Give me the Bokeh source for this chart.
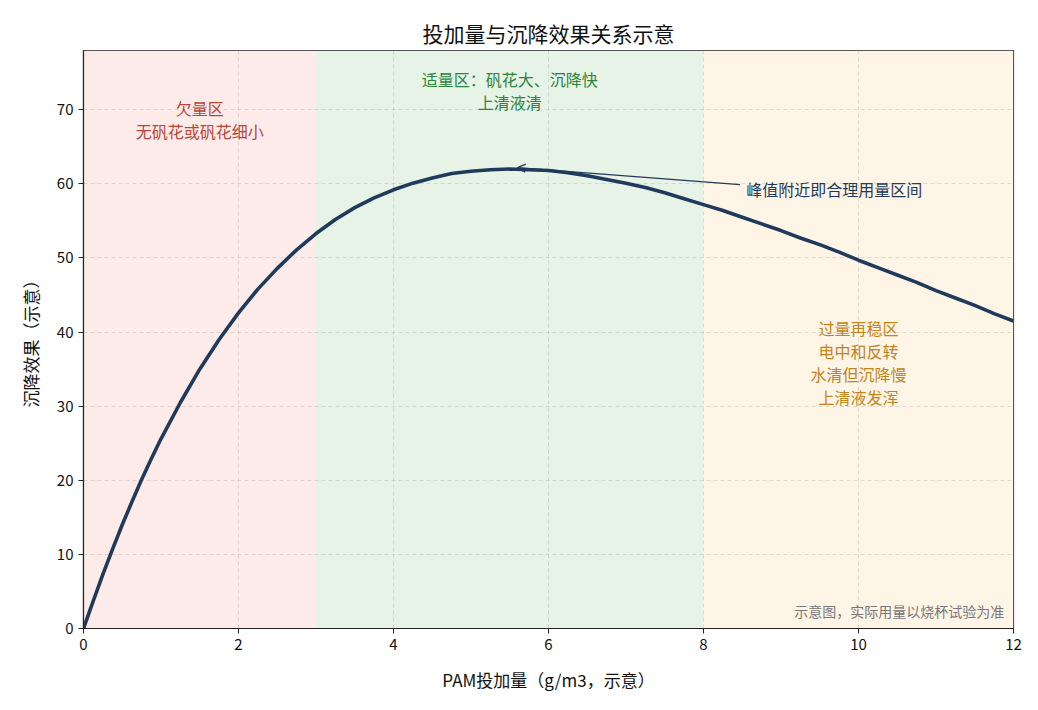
from bokeh.plotting import figure
from bokeh.models import Arrow, OpenHead, Range1d, FixedTicker
from bokeh.core.properties import value
from bokeh.embed import file_html
from bokeh.resources import INLINE

FONT = "Noto Sans CJK SC"

# dosage (g/m3) vs settling effect
dose = [0, 0.125, 0.25, 0.375, 0.5, 0.625, 0.75, 0.875, 1, 1.25, 1.5, 1.75,
        2, 2.25, 2.5, 2.75, 3, 3.25, 3.5, 3.75, 4, 4.25, 4.5, 4.75, 5, 5.25,
        5.5, 5.75, 6, 6.25, 6.5, 6.75, 7, 7.25, 7.5, 7.75, 8, 8.25, 8.5, 8.75,
        9, 9.25, 9.5, 9.75, 10, 10.25, 10.5, 10.75, 11, 11.25, 11.5, 11.75, 12]
effect = [0, 3.7, 7.3, 10.7, 14.0, 17.1, 20.1, 22.9, 25.6, 30.5, 35.0, 39.0,
          42.6, 45.8, 48.6, 51.1, 53.3, 55.2, 56.8, 58.1, 59.2, 60.1, 60.8,
          61.4, 61.7, 61.9, 62.0, 61.9, 61.8, 61.5, 61.1, 60.6, 60.1, 59.5,
          58.8, 58.0, 57.2, 56.4, 55.5, 54.6, 53.7, 52.7, 51.8, 50.8, 49.7,
          48.7, 47.7, 46.7, 45.6, 44.6, 43.6, 42.5, 41.5]

zone_start = [0, 3, 8]
zone_end = [3, 8, 12]
zone_fill = ["#fdebe9", "#e7f3e6", "#fef5e6"]

zone_text = ["欠量区\n无矾花或矾花细小",
             "适量区：矾花大、沉降快\n上清液清",
             "过量再稳区\n电中和反转\n水清但沉降慢\n上清液发浑"]
zone_text_x = [1.5, 5.5, 10.0]
zone_text_y = [68.7, 72.6, 35.9]
zone_text_color = ["#b5473a", "#2a8540", "#c4841c"]

peak_x, peak_y = 5.6, 62.2
note_x, note_y = 8.55, 59.3

p = figure(frame_width=930, frame_height=578, output_backend="svg",
           toolbar_location=None, x_range=Range1d(0, 12), y_range=Range1d(0, 78),
           min_border_left=83, min_border_right=15, min_border_top=50,
           min_border_bottom=74, title="投加量与沉降效果关系示意")

p.title.align = "center"
p.title.text_font = FONT
p.title.text_font_size = "21px"
p.title.text_font_style = "normal"
p.title.text_color = "#111111"
p.title.standoff = 6

p.quad(left=zone_start, right=zone_end, bottom=0, top=78,
       fill_color=zone_fill, line_color=None, level="image")

p.line(dose, effect, line_width=3.6, color="#1f3a5a")

p.text(zone_text_x, zone_text_y, text=zone_text, text_color=zone_text_color,
       text_font=value(FONT), text_font_size="16px", text_align="center",
       text_baseline="middle", text_line_height=0.95)

p.add_layout(Arrow(end=OpenHead(size=8, line_color="#1f3a5a", line_width=1.3),
                   x_start=note_x - 0.08, y_start=note_y + 0.6,
                   x_end=peak_x, y_end=peak_y,
                   line_color="#1f3a5a", line_width=1.3))
p.text([note_x], [note_y], text=["峰值附近即合理用量区间"], text_color="#1f3a5a",
       text_font=value(FONT), text_font_size="16px", text_align="left",
       text_baseline="middle")
p.text([11.88], [2.4], text=["示意图，实际用量以烧杯试验为准"], text_color="#777777",
       text_font=value(FONT), text_font_size="14px", text_align="right",
       text_baseline="middle")

p.xaxis.ticker = FixedTicker(ticks=[0, 2, 4, 6, 8, 10, 12])
p.yaxis.ticker = FixedTicker(ticks=[0, 10, 20, 30, 40, 50, 60, 70])
p.xaxis.axis_label = "PAM投加量（g/m3，示意）"
p.yaxis.axis_label = "沉降效果（示意）"
for ax in (p.xaxis, p.yaxis):
    ax.axis_label_text_font = FONT
    ax.axis_label_text_font_size = "17px"
    ax.axis_label_text_font_style = "normal"
    ax.axis_label_text_color = "#111111"
    ax.major_label_text_font = FONT
    ax.major_label_text_font_size = "15px"
    ax.major_label_text_color = "#111111"
    ax.axis_line_color = "#222222"
    ax.axis_line_width = 1.2
    ax.major_tick_line_color = "#222222"
    ax.major_tick_in = 0
    ax.major_tick_out = 5
    ax.minor_tick_line_color = None
p.xaxis.axis_label_standoff = 14
p.yaxis.axis_label_standoff = 11

p.grid.grid_line_color = "#999999"
p.grid.grid_line_alpha = 0.3
p.grid.grid_line_dash = "4 3"
p.outline_line_color = "#222222"
p.outline_line_width = 1.2
p.outline_line_alpha = 1.0

open("out.html", "w").write(file_html(p, INLINE))
